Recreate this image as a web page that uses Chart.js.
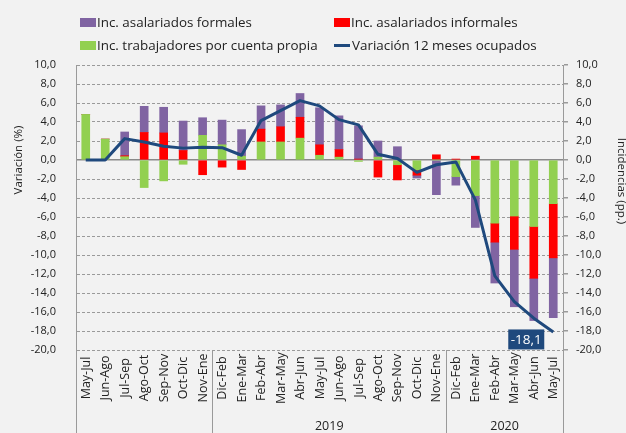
<!DOCTYPE html>
<html>
<head>
<meta charset="utf-8">
<script src="https://cdn.jsdelivr.net/npm/chart.js@4.4.1/dist/chart.umd.min.js"></script>
<style>
  html, body { margin: 0; padding: 0; background: #f2f2f2; }
  #wrap { position: relative; width: 626px; height: 433px; overflow: hidden; }
  #chart { position: absolute; left: 0; top: 0; }
  .lg { position: absolute; display: flex; align-items: center; font-family: "Open Sans", sans-serif; font-size: 13.4px; color: #222; white-space: nowrap; line-height: 18px; }
  .lg .key { width: 16px; height: 9px; margin-right: 1px; }
  .lg .lkey { width: 16px; height: 3px; margin-right: 2px; }
</style>
</head>
<body>
<div id="wrap">
  <canvas id="chart" width="626" height="433"></canvas>
  <div id="legend"></div>
</div>
<script>
// ---- Data ----
const categories = ['May-Jul','Jun-Ago','Jul-Sep','Ago-Oct','Sep-Nov','Oct-Dic','Nov-Ene',
  'Dic-Feb','Ene-Mar','Feb-Abr','Mar-May','Abr-Jun','May-Jul','Jun-Ago','Jul-Sep','Ago-Oct','Sep-Nov','Oct-Dic','Nov-Ene',
  'Dic-Feb','Ene-Mar','Feb-Abr','Mar-May','Abr-Jun','May-Jul'];
const yearGroups = ['', '2019', '2020'];
const groupSizes = [7, 12, 6];

const seriesNames = ['Inc. asalariados formales', 'Inc. asalariados informales',
  'Inc. trabajadores por cuenta propia', 'Variación 12 meses ocupados'];

const formales = [0, 0, 2.5, 2.75, 2.7, 3.1, 1.85,
  2.6, 2.8, 2.45, 2.3, 2.5, 3.9, 3.55, 3.5, 1.7, 1.4, -0.3, -3.65,
  -0.9, -3.35, -4.3, -6.05, -4.45, -6.3];
const informales = [0, 0, 0.1, 2.9, 2.85, 1.0, -1.55,
  -0.75, -1.0, 1.35, 1.6, 2.2, 1.1, 0.8, 0.1, -1.8, -1.6, -0.55, 0.55,
  0.1, 0.4, -2.0, -3.5, -5.45, -5.7];
const cuentaPropia = [4.8, 2.2, 0.35, -2.9, -2.2, -0.45, 2.6,
  1.6, 0.4, 1.9, 1.9, 2.3, 0.5, 0.3, -0.15, 0.3, -0.5, -1.05, 0,
  -1.75, -3.75, -6.65, -5.9, -7.0, -4.6];
const variacion = [0, 0, 2.25, 1.9, 1.45, 1.25, 1.35,
  1.3, 0.5, 4.15, 5.2, 6.25, 5.7, 4.25, 3.7, 0.6, 0.15, -1.3, -0.5,
  -0.2, -4.2, -12.2, -14.9, -16.65, -18.1];

const axisMin = -20, axisMax = 10, axisStep = 2;

// ---- Styles ----
const cPurple = '#8064A2', cRed = '#FF0000', cGreen = '#92D050', cLine = '#1F497D';
const txt = '#222';
const gridC = '#9a9a9a';
const FONT = '"Open Sans", sans-serif';
const fmt = v => Number(v).toFixed(1).replace('.', ',');

// ---- Legend (HTML) ----
const legendItems = [
  {name: seriesNames[0], color: cPurple, left: 80, top: 13, line: false},
  {name: seriesNames[1], color: cRed, left: 334, top: 13, line: false},
  {name: seriesNames[2], color: cGreen, left: 80, top: 36, line: false},
  {name: seriesNames[3], color: cLine, left: 334, top: 36, line: true}
];
const lg = document.getElementById('legend');
legendItems.forEach(it => {
  const d = document.createElement('div');
  d.className = 'lg';
  d.style.left = it.left + 'px';
  d.style.top = it.top + 'px';
  const k = document.createElement('span');
  k.className = it.line ? 'lkey' : 'key';
  k.style.background = it.color;
  const t = document.createElement('span');
  t.textContent = it.name;
  d.appendChild(k); d.appendChild(t);
  lg.appendChild(d);
});

// ---- Decoration plugin: category labels, group separators, year labels, axis titles, data label ----
const decor = {
  id: 'decor',
  afterDatasetsDraw(chart) {
    const {ctx} = chart;
    const meta = chart.getDatasetMeta(0);
    const last = meta.data.length - 1;
    const pt = meta.data[last];
    const label = fmt(variacion[last]);
    ctx.save();
    const bx = pt.x - 45, by = pt.y - 2.5, bw = 36, bh = 20;
    ctx.fillStyle = cLine;
    ctx.fillRect(bx, by, bw, bh);
    ctx.fillStyle = '#ffffff';
    ctx.font = '13.5px ' + FONT;
    ctx.textAlign = 'center';
    ctx.textBaseline = 'middle';
    ctx.fillText(label, bx + bw / 2, by + bh / 2 + 0.5);
    ctx.restore();
  },
  afterDraw(chart) {
    const {ctx, chartArea} = chart;
    const x = chart.scales.x;
    const H = chart.height;
    ctx.save();
    // category labels (rotated, centred)
    ctx.font = '12.5px ' + FONT;
    ctx.fillStyle = txt;
    ctx.textAlign = 'center';
    ctx.textBaseline = 'middle';
    categories.forEach((lab, i) => {
      const px = x.getPixelForTick(i);
      ctx.save();
      ctx.translate(px + 0.5, 378);
      ctx.rotate(-Math.PI / 2);
      ctx.fillText(lab, 0, 0);
      ctx.restore();
    });
    // group separators + year labels
    const half = (x.getPixelForTick(1) - x.getPixelForTick(0)) / 2;
    ctx.strokeStyle = gridC;
    ctx.lineWidth = 1;
    let start = 0;
    const edges = [];
    groupSizes.forEach((n, g) => {
      const l = x.getPixelForTick(start) - half;
      const r = x.getPixelForTick(start + n - 1) + half;
      edges.push(l, r);
      if (yearGroups[g]) {
        ctx.font = '12.5px ' + FONT;
        ctx.fillText(yearGroups[g], (l + r) / 2, 426);
      }
      start += n;
    });
    [...new Set(edges.map(e => Math.round(e)))].forEach(e => {
      ctx.beginPath();
      ctx.moveTo(e + 0.5, chartArea.bottom);
      ctx.lineTo(e + 0.5, H);
      ctx.stroke();
    });
    // axis titles
    ctx.font = '11.5px ' + FONT;
    ctx.save();
    ctx.translate(19, 160);
    ctx.rotate(-Math.PI / 2);
    ctx.fillText('Variación (%)', 0, 0);
    ctx.restore();
    ctx.save();
    ctx.translate(621, 181);
    ctx.rotate(Math.PI / 2);
    ctx.fillText('Incidencias (pp.)', 0, 0);
    ctx.restore();
    ctx.restore();
  }
};

new Chart(document.getElementById('chart'), {
  type: 'bar',
  data: {
    labels: categories,
    datasets: [
      {type: 'line', label: seriesNames[3], data: variacion, yAxisID: 'y',
        borderColor: cLine, backgroundColor: cLine, borderWidth: 3, pointRadius: 0,
        tension: 0, fill: false, order: 0, borderJoinStyle: 'round'},
      {label: seriesNames[2], data: cuentaPropia, backgroundColor: cGreen, yAxisID: 'y2', order: 1, stack: 's'},
      {label: seriesNames[1], data: informales, backgroundColor: cRed, yAxisID: 'y2', order: 1, stack: 's'},
      {label: seriesNames[0], data: formales, backgroundColor: cPurple, yAxisID: 'y2', order: 1, stack: 's'}
    ]
  },
  options: {
    responsive: false,
    animation: false,
    devicePixelRatio: 1,
    layout: {padding: {top: 65, left: 0, right: 0, bottom: 0}},
    datasets: {bar: {barThickness: 8}},
    plugins: {legend: {display: false}, tooltip: {enabled: false}, title: {display: false}},
    scales: {
      x: {
        stacked: true,
        grid: {display: false},
        border: {display: false},
        ticks: {display: false},
        afterFit(s) { s.height = 83; }
      },
      y: {
        position: 'left',
        min: axisMin, max: axisMax,
        ticks: {stepSize: axisStep, callback: v => fmt(v), padding: 20, color: txt, font: {family: FONT, size: 11}},
        grid: {color: c => c.tick && c.tick.value === 0 ? 'rgba(0,0,0,0)' : gridC, drawTicks: false, lineWidth: 1},
        border: {display: true, color: gridC, dash: [3, 2]},
        afterFit(s) { s.width = 76; }
      },
      y2: {
        position: 'right',
        stacked: true,
        min: axisMin, max: axisMax,
        ticks: {stepSize: axisStep, callback: v => fmt(v), padding: 8, color: txt, font: {family: FONT, size: 11}},
        grid: {color: c => c.tick && c.tick.value === 0 ? '#8a8a8a' : 'rgba(0,0,0,0)', tickColor: gridC,
          drawTicks: true, tickLength: 5, drawOnChartArea: true, lineWidth: 1.5},
        border: {display: true, color: gridC},
        afterFit(s) { s.width = 63; }
      }
    }
  },
  plugins: [decor]
});
</script>
</body>
</html>
